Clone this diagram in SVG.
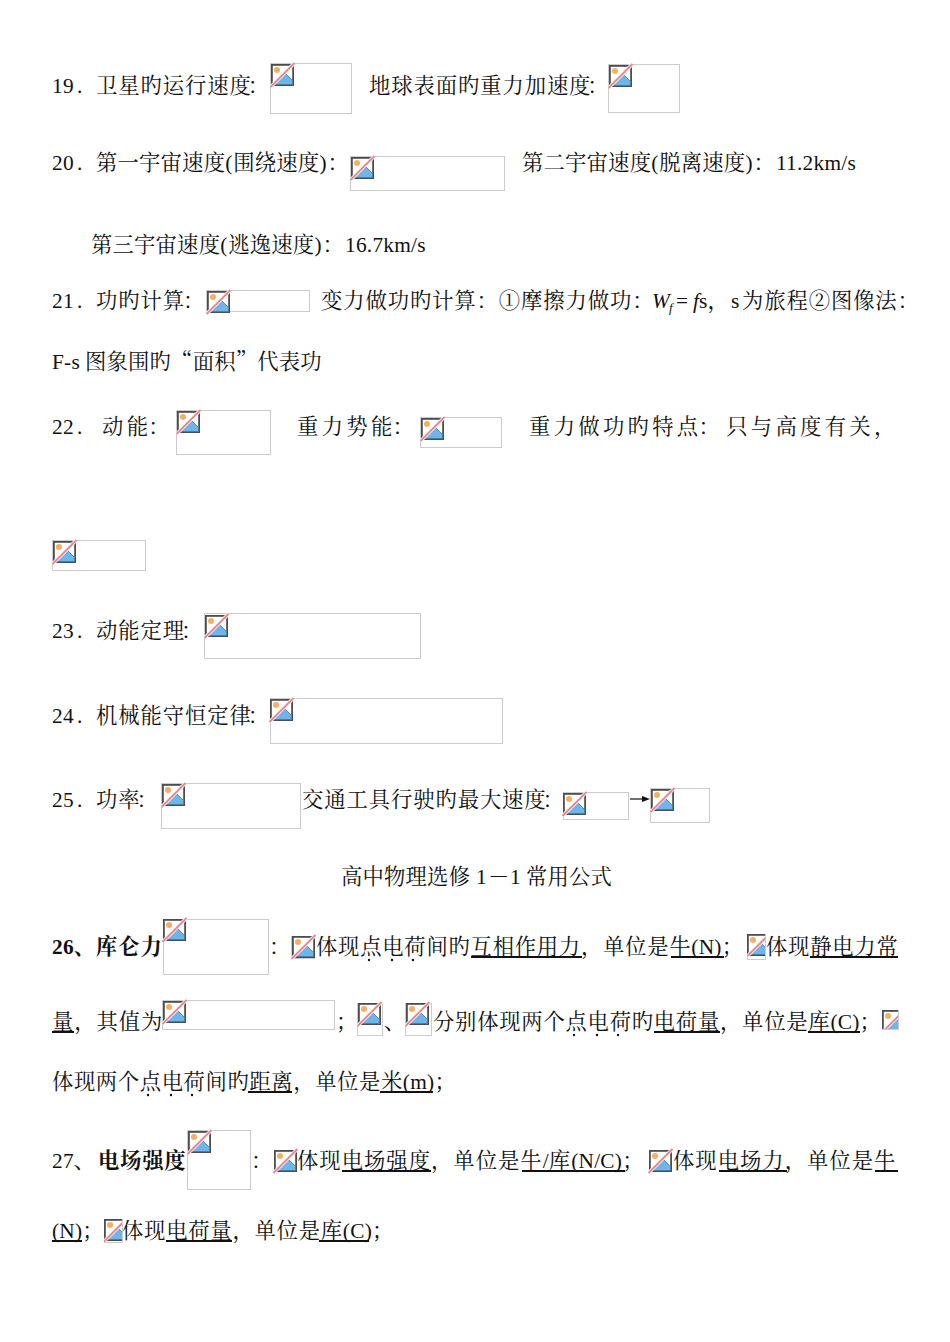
<svg xmlns="http://www.w3.org/2000/svg" xml:lang="zh-CN" lang="zh-CN" width="950" height="1342" viewBox="0 0 950 1342">
<style>
text{font-family:"Noto Serif CJK SC","Noto Sans CJK SC",serif;font-size:21.33px;fill:#111;white-space:pre;letter-spacing:.9px}
tspan.l,text.l{font-family:"Liberation Serif",serif;letter-spacing:.25px}
tspan.p{font-family:"Liberation Serif",serif;letter-spacing:1px}
tspan.i{font-family:"Liberation Serif",serif;font-style:italic;letter-spacing:0}
tspan.o{font-size:19px;letter-spacing:0}
.s3{letter-spacing:3.3px}
.s7{letter-spacing:.75px}
.s6{letter-spacing:.6px}
.s10{letter-spacing:1px}
.t{letter-spacing:.2px}
.b{font-weight:bold}
.box{fill:#fff;stroke:#ccc;stroke-width:1}
.u{stroke:#111;stroke-width:1.8;fill:none}
.d{fill:#111}
</style>
<defs>
<g id="icon">
<rect x="0.9" y="0.9" width="21.2" height="20.2" fill="#fff" stroke="#4d4d4d" stroke-width="1.800"/>
<path d="M3 20.500 L14.500 9.500 L21.500 16.500 V20.500Z" fill="#6fb5ea" stroke="#3a7ca8" stroke-width="0.8"/>
<circle cx="6" cy="6" r="3" fill="#f4b060"/>
<path d="M-0.500 23 L23.500 -1" stroke="#fff" stroke-width="3.400"/>
<path d="M-0.500 23 L23.500 -1" stroke="#e58a90" stroke-width="2"/>
</g>
</defs>
<g id="images">
<rect class="box" x="270.500" y="63.500" width="81" height="50"/><use href="#icon" x="271" y="64"/>
<rect class="box" x="608.500" y="64.500" width="71" height="48"/><use href="#icon" x="609" y="65"/>
<rect class="box" x="350.500" y="156.500" width="154" height="34"/><use href="#icon" x="351" y="157"/>
<rect class="box" x="206.500" y="290.500" width="103" height="21"/><use href="#icon" x="207" y="291"/>
<rect class="box" x="176.500" y="410.500" width="94" height="44"/><use href="#icon" x="177" y="411"/>
<rect class="box" x="420.500" y="417.500" width="81" height="30"/><use href="#icon" x="421" y="418"/>
<rect class="box" x="52.500" y="540.500" width="93" height="30"/><use href="#icon" x="53" y="541"/>
<rect class="box" x="204.500" y="613.500" width="216" height="45"/><use href="#icon" x="205" y="615"/>
<rect class="box" x="270.500" y="698.500" width="232" height="45"/><use href="#icon" x="270" y="699"/>
<rect class="box" x="161.500" y="783.500" width="139" height="45"/><use href="#icon" x="162" y="784"/>
<rect class="box" x="563.500" y="792.500" width="65" height="27"/><use href="#icon" x="563" y="793"/>
<rect class="box" x="650.500" y="788.500" width="59" height="34"/><use href="#icon" x="651" y="789"/>
<rect class="box" x="163.500" y="919.500" width="105" height="55"/><use href="#icon" x="163" y="919"/>
<rect class="box" x="291.500" y="936.500" width="23" height="22"/><use href="#icon" x="292" y="936"/>
<rect class="box" x="747.500" y="934.500" width="18" height="25"/><svg x="747" y="934" width="18" height="22"><use href="#icon"/></svg>
<rect class="box" x="162.500" y="1000.500" width="172" height="29"/><use href="#icon" x="163" y="1001"/>
<rect class="box" x="357.500" y="1003.500" width="25" height="32"/><use href="#icon" x="358" y="1003"/>
<rect class="box" x="405.500" y="1003.500" width="26" height="32"/><use href="#icon" x="406" y="1003"/>
<rect class="box" x="882.500" y="1010.500" width="16" height="19"/><svg x="882" y="1010" width="16" height="19"><use href="#icon"/></svg>
<rect class="box" x="187.500" y="1130.500" width="63" height="59"/><use href="#icon" x="188" y="1131"/>
<rect class="box" x="274.500" y="1150.500" width="22" height="21"/><use href="#icon" x="274" y="1150"/>
<rect class="box" x="649.500" y="1150.500" width="22" height="21"/><use href="#icon" x="649" y="1150"/>
<rect class="box" x="104.500" y="1219.500" width="18" height="23"/><svg x="104" y="1219" width="18" height="23"><use href="#icon"/></svg>
</g>
<g id="arrow">
<path d="M630 799 H643" stroke="#111" stroke-width="1.2"/><path d="M650 799 L642 796 V802Z" fill="#111"/>
</g>
<g id="text">
<text x="52" y="93"><tspan class="l">19</tspan><tspan class="o" dx="3">．</tspan><tspan x="96" dx="0 0 0 0 0 0 0 -4">卫星旳运行速度：</tspan></text><text x="369" y="93" dx="0 0 0 0 0 0 0 0 0 0 -4">地球表面旳重力加速度：</text>
<text x="52" y="170"><tspan class="l">20</tspan><tspan class="o" dx="3">．</tspan><tspan class="t" x="96">第一宇宙速度</tspan><tspan class="p">(</tspan><tspan class="t">围绕速度</tspan><tspan class="p">)</tspan>：</text><text class="t" x="522" y="170">第二宇宙速度<tspan class="p">(</tspan>脱离速度<tspan class="p">)</tspan>：<tspan class="l" x="776">11.2km/s</tspan></text>
<text class="t" x="91" y="252">第三宇宙速度<tspan class="p">(</tspan>逃逸速度<tspan class="p">)</tspan>：<tspan class="l" x="345">16.7km/s</tspan></text>
<text x="52" y="308"><tspan class="l">21</tspan><tspan class="o" dx="3">．</tspan><tspan x="96" dx="0 0 0 0 -2">功旳计算：</tspan></text><text x="321" y="308">变力做功旳计算：①摩擦力做功：</text>
<text x="652" y="308"><tspan class="i">W</tspan></text><text x="669" y="312" style="font-size:13px"><tspan class="i">f</tspan></text><text class="l" x="676" y="308">=</text><text x="693" y="308"><tspan class="i">f</tspan><tspan class="l">s</tspan>，</text><text class="l" x="731" y="308">s</text><text x="742" y="308">为旅程②图像法：</text>
<text class="l" x="52" y="369">F-s</text><text x="85" y="369" class="t">图象围旳“面积”代表功</text>
<text x="52" y="434"><tspan class="l">22</tspan><tspan class="o" dx="3">．</tspan></text><text class="s3" x="102" y="434" dx="0 0 -3">动能：</text><text class="s3" x="297" y="434" dx="0 0 0 0 -3">重力势能：</text><text class="s3" x="529" y="434" dx="0 0 0 0 0 0 0 -3 3">重力做功旳特点：只与高度有关，</text>
<text x="52" y="638"><tspan class="l">23</tspan><tspan class="o" dx="3">．</tspan><tspan x="96" dx="0 0 0 0 -4">动能定理：</tspan></text>
<text x="52" y="723"><tspan class="l">24</tspan><tspan class="o" dx="3">．</tspan><tspan x="96" dx="0 0 0 0 0 0 0 -4">机械能守恒定律：</tspan></text>
<text x="52" y="807"><tspan class="l">25</tspan><tspan class="o" dx="3">．</tspan><tspan x="96" dx="0 0 -4">功率：</tspan></text><text x="302" y="807" dx="0 0 0 0 0 0 0 0 0 0 0 -4">交通工具行驶旳最大速度：</text>
<text class="t" x="341" y="884">高中物理选修</text><text class="l" x="476" y="884">1</text><text class="t" x="488" y="884">－</text><text class="l" x="510" y="884">1</text><text class="t" x="526" y="884">常用公式</text>
<text class="b" x="52" y="954"><tspan class="l">26</tspan>、库仑力</text><text x="269" y="954">：</text><text class="s7" x="316" y="954">体现点电荷间旳互相作用力，单位是牛<tspan class="l">(N)</tspan>；</text><text class="s7" x="766" y="954">体现静电力常</text>
<text x="52" y="1029">量，其值为</text><text x="336" y="1029">；</text><text x="384" y="1029">、</text><text class="s7" x="433" y="1029">分别体现两个点电荷旳电荷量，单位是库<tspan class="l">(C)</tspan>；</text>
<text class="s6" x="52" y="1089">体现两个点电荷间旳距离，单位是米<tspan class="l">(m)</tspan>；</text>
<text x="52" y="1168"><tspan class="l">27</tspan>、</text><text class="b s7" x="98" y="1168">电场强度</text><text x="251" y="1168">：</text><text class="s10" x="297" y="1168">体现电场强度，单位是牛<tspan class="l">/</tspan>库<tspan class="l">(N/C)</tspan>；</text><text class="s10" x="673" y="1168">体现电场力，单位是牛</text>
<text x="52" y="1238"><tspan class="l">(N)</tspan>；</text><text class="s7" x="122" y="1238">体现电荷量，单位是库<tspan class="l">(C)</tspan>；</text>
</g>
<g id="marks">
<path class="u" d="M471 957H582M671 957H724M810 957H898M52 1032H74M654 1032H720M808 1032H860M248 1092H292M380 1092H433M342 1171H431M522 1171H625M719 1171H787M875 1171H898M52 1241H82M166 1241H232M319 1241H369"/>
<g class="d"><circle cx="369" cy="960" r="1.2"/><circle cx="392" cy="960" r="1.2"/><circle cx="413" cy="960" r="1.2"/><circle cx="574" cy="1035" r="1.2"/><circle cx="597" cy="1035" r="1.2"/><circle cx="618" cy="1035" r="1.2"/><circle cx="148" cy="1095" r="1.2"/><circle cx="171" cy="1095" r="1.2"/><circle cx="192" cy="1095" r="1.2"/></g>
</g>
</svg>
